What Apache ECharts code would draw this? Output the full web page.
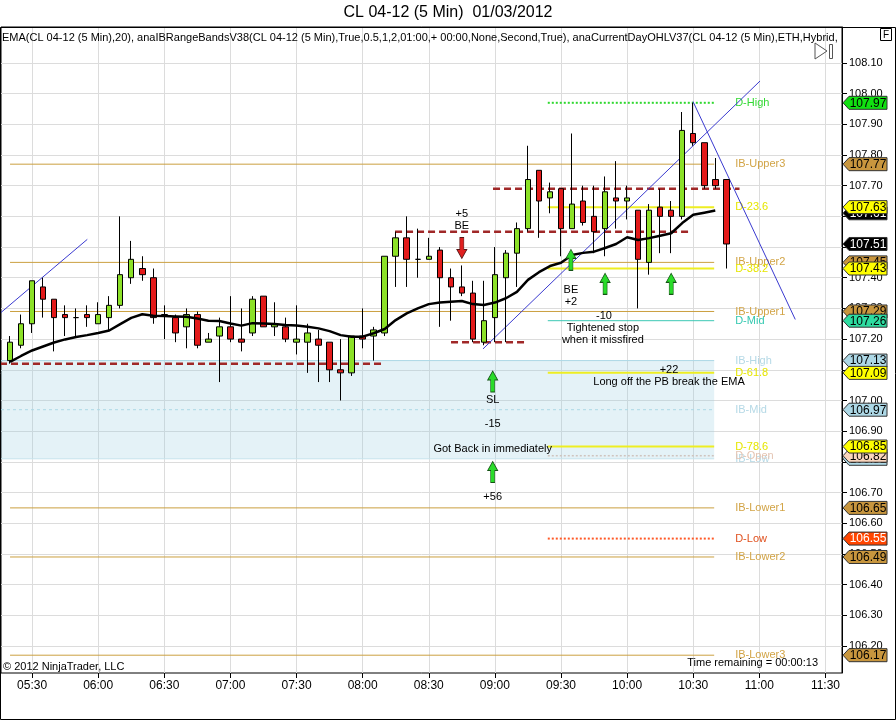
<!DOCTYPE html>
<html>
<head>
<meta charset="utf-8">
<script src="https://cdn.jsdelivr.net/npm/echarts@6/dist/echarts.min.js"></script>
<style>
html, body { margin: 0; padding: 0; background: #fff; }
#chart { width: 896px; height: 720px; }
</style>
</head>
<body>
<div id="chart"></div>
<script>
// bar index 0 is the 05:20 bar, one bar every 5 minutes
var firstBarMinute = 5 * 60 + 20;
var barMinutes = 5;

var opens = [107.13,107.18,107.25,107.37,107.33,107.28,107.27,107.28,107.25,107.27,
             107.31,107.40,107.43,107.40,107.28,107.27,107.24,107.28,107.19,107.21,
             107.24,107.20,107.22,107.34,107.24,107.24,107.19,107.19,107.20,107.19,
             107.10,107.09,107.21,107.21,107.22,107.47,107.53,107.46,107.46,107.49,
             107.40,107.37,107.35,107.19,107.27,107.40,107.48,107.56,107.75,107.66,
             107.69,107.56,107.65,107.60,107.56,107.66,107.65,107.62,107.45,107.63,
             107.62,107.60,107.87,107.84,107.72,107.72];
var closes = [107.19,107.25,107.39,107.33,107.27,107.27,107.27,107.27,107.28,107.31,
              107.41,107.46,107.41,107.27,107.28,107.22,107.28,107.18,107.20,107.24,
              107.20,107.19,107.33,107.24,107.25,107.20,107.20,107.22,107.18,107.10,
              107.09,107.21,107.20,107.23,107.47,107.53,107.46,107.46,107.47,107.40,
              107.37,107.35,107.20,107.26,107.41,107.48,107.56,107.72,107.65,107.68,
              107.56,107.64,107.58,107.55,107.68,107.65,107.66,107.46,107.62,107.60,
              107.60,107.88,107.84,107.70,107.70,107.51];
var highs = [107.21,107.28,107.39,107.40,107.33,107.31,107.30,107.31,107.32,107.34,
             107.60,107.52,107.47,107.43,107.31,107.28,107.30,107.29,107.22,107.27,
             107.34,107.30,107.34,107.34,107.32,107.27,107.31,107.25,107.23,107.19,
             107.20,107.21,107.30,107.24,107.47,107.55,107.60,107.56,107.53,107.50,
             107.43,107.44,107.39,107.39,107.50,107.49,107.58,107.83,107.75,107.71,
             107.69,107.87,107.70,107.70,107.73,107.78,107.70,107.62,107.64,107.69,
             107.65,107.94,107.97,107.84,107.79,107.72];
var lows = [107.12,107.17,107.22,107.27,107.16,107.21,107.21,107.24,107.25,107.23,
            107.30,107.38,107.39,107.25,107.20,107.19,107.17,107.17,107.19,107.06,
            107.19,107.16,107.21,107.24,107.21,107.19,107.15,107.09,107.06,107.06,
            107.00,107.08,107.17,107.13,107.21,107.37,107.37,107.40,107.46,107.24,
            107.26,107.34,107.19,107.18,107.19,107.19,107.37,107.55,107.53,107.61,
            107.47,107.56,107.57,107.48,107.47,107.56,107.59,107.30,107.41,107.48,
            107.48,107.59,107.83,107.69,107.69,107.43];

// EMA(20) as plotted (last bar not yet closed)
var ema20 = [107.126,107.145,107.163,107.176,107.189,107.199,107.207,107.213,107.220,107.228,
             107.249,107.269,107.281,107.276,107.275,107.274,107.273,107.267,107.260,107.259,
             107.251,107.244,107.252,107.251,107.249,107.246,107.244,107.240,107.235,107.226,
             107.213,107.208,107.208,107.219,107.233,107.262,107.284,107.300,107.314,107.319,
             107.322,107.324,107.314,107.311,107.319,107.333,107.354,107.393,107.418,107.438,
             107.449,107.474,107.481,107.485,107.497,107.510,107.532,107.523,107.529,107.537,
             107.545,107.578,107.605,107.612,107.619];

var timeLabels = ['05:30','06:00','06:30','07:00','07:30','08:00','08:30',
                  '09:00','09:30','10:00','10:30','11:00','11:30'];
var priceTicks = [106.2,106.3,106.4,106.5,106.6,106.7,106.8,106.9,107.0,
                  107.1,107.2,107.3,107.4,107.5,107.6,107.7,107.8,107.9,108.0,108.1];

// session levels (initial balance bands and day OHL / fib levels)
var levelNames  = ['D-High','IB-Upper3','D-23.6','IB-Upper2','D-38.2','IB-Upper1','D-Mid','IB-High',
                   'D-61.8','IB-Mid','D-78.6','IB-Low','D-Open','IB-Lower1','D-Low','IB-Lower2','IB-Lower3'];
var levelValues = [107.97,107.77,107.63,107.45,107.43,107.29,107.26,107.13,
                   107.09,106.97,106.85,106.81,106.82,106.65,106.55,106.49,106.17];
var levelStart  = [48.8,0,48.8,0,48.8,0,48.8,-0.82,48.8,-0.82,48.8,-0.82,48.8,0,48.8,0,0];
var levelEnd = 63.9;

// price markers on the right axis, drawn in this order
var tagValues = [107.61,107.63,107.51,107.45,107.43,107.29,107.26,107.97,107.77,
                 107.13,107.09,106.97,106.81,106.82,106.85,106.65,106.55,106.49,106.17];

// hand drawn lines: [bar, price] -> [bar, price]
var drawX1 = [-0.91,34.94,43.83,40.02,-0.91,42.92,61.98];
var drawP1 = [107.12,107.55,107.69,107.19,107.284,107.168,107.974];
var drawX2 = [33.94,61.86,66.2,47.0,7.01,68.06,71.26];
var drawP2 = [107.12,107.55,107.69,107.19,107.525,108.041,107.264];

var upArrowX = [50.9,54,60,43.8,43.8];
var upArrowP = [107.458,107.380,107.380,107.062,106.767];
var downArrowX = [41];
var downArrowP = [107.497];

var noteText = ['+5','BE','BE','+2','-10','Tightened stop','when it missfired','+22',
                'Long off the PB break the EMA','SL','-15','Got Back in immediately','+56'];
var noteX = [41,41,50.9,50.9,53.9,53.8,53.8,59.8,59.8,43.8,43.8,43.8,43.8];
var noteP = [107.608,107.569,107.360,107.321,107.275,107.236,107.197,107.099,
             107.060,107.002,106.923,106.842,106.685];

var FONT = '"Liberation Sans", Arial, sans-serif';
var GOLD = '#CBA040', YELLOW = '#EEEE22', LBLUE = '#ADD8E6';

var levelColors = ['#2ED82E',GOLD,YELLOW,GOLD,YELLOW,GOLD,'#3CC8B4',LBLUE,
                   YELLOW,LBLUE,YELLOW,'#C5E3EC','#CFC4BE',GOLD,'#FF5A28',GOLD,GOLD];
var levelWidth  = [2,1,2,1,2,1,1,1,2,1,2,1,1.5,1,2,1,1];
var levelDash   = [[2,2],null,null,null,null,null,null,null,null,[3,3],null,null,[2,2],null,[2,2],null,null];
var labelColors = ['#33D933','#D2A446','#E6E600','#D2A446','#E6E600','#D2A446','#33C8B0','#B5D9E6',
                   '#E6E600','#B5D9E6','#E6E600','#B5D9E6','#E4C4B2','#D2A446','#E0501E','#D2A446','#D2A446'];
var tagFill = ['#000000','#FFFF00','#000000','#C8963E','#FFFF00','#C8963E','#2DDCA0','#11E011','#C8963E',
               '#ADD8E6','#FFFF00','#ADD8E6','#ADD8E6','#F9D5BD','#FFFF00','#C8963E','#FF4500','#C8963E','#C8963E'];
var tagInk  = ['#fff','#000','#fff','#000','#000','#000','#000','#000','#000',
               '#000','#000','#000','#000','#000','#000','#000','#fff','#000','#000'];
var drawColor = ['#A02828','#A02828','#A02828','#A02828','#3A3AD0','#3A3AD0','#3A3AD0'];

var X_MIN = -0.82, X_MAX = 75.5;
var Y_MIN = 106.112, Y_MAX = 108.217;

function timeToBar(t) {
    var p = t.split(':');
    return (parseInt(p[0], 10) * 60 + parseInt(p[1], 10) - firstBarMinute) / barMinutes;
}
function barToTime(b) {
    var m = firstBarMinute + Math.round(b) * barMinutes;
    var h = Math.floor(m / 60), mm = m % 60;
    return (h < 10 ? '0' : '') + h + ':' + (mm < 10 ? '0' : '') + mm;
}
var timeTicks = timeLabels.map(timeToBar);

var candles = opens.map(function (o, i) {
    return [i, o, closes[i], lows[i], highs[i]];
});

var chart = echarts.init(document.getElementById('chart'));

var option = {
    animation: false,
    backgroundColor: '#fff',
    textStyle: { fontFamily: FONT },
    grid: {
        left: 1, right: 54, top: 27, bottom: 47,
        show: true, borderColor: '#000', borderWidth: 1,
        outerBoundsMode: 'none', containLabel: false
    },
    xAxis: {
        type: 'value', min: X_MIN, max: X_MAX,
        axisLine: { show: false, onZero: false },
        axisTick: { show: true, customValues: timeTicks, length: 5, lineStyle: { color: '#000' } },
        axisLabel: {
            customValues: timeTicks, color: '#000', fontSize: 12, margin: 7,
            formatter: function (v) { return barToTime(v); }
        },
        splitLine: { show: true, lineStyle: { color: '#DCDCDC', width: 1 } }
    },
    yAxis: {
        type: 'value', position: 'right', min: Y_MIN, max: Y_MAX, scale: true,
        axisLine: { show: true, onZero: false, lineStyle: { color: '#000' } },
        axisTick: { show: true, customValues: priceTicks, length: 5, lineStyle: { color: '#000' } },
        axisLabel: {
            customValues: priceTicks, color: '#000', fontSize: 11, margin: 7,
            formatter: function (v) { return v.toFixed(2); }
        },
        splitLine: { show: true, lineStyle: { color: '#DCDCDC', width: 1 } }
    },
    series: [
        {
            // initial balance zone
            type: 'custom', z: 1, silent: true,
            data: [[levelStart[7], levelEnd, levelValues[7], levelValues[11]]],
            renderItem: function (params, api) {
                var a = api.coord([api.value(0), api.value(2)]);
                var b = api.coord([api.value(1), api.value(3)]);
                return { type: 'rect', shape: { x: a[0], y: a[1], width: b[0] - a[0], height: b[1] - a[1] },
                         style: { fill: 'rgba(150,205,225,0.26)' } };
            }
        },
        {
            type: 'custom', z: 2, silent: true,
            data: levelValues.map(function (v, i) { return [levelStart[i], levelEnd, v]; }),
            renderItem: function (params, api) {
                var i = params.dataIndex;
                var a = api.coord([api.value(0), api.value(2)]);
                var b = api.coord([api.value(1), api.value(2)]);
                return { type: 'group', children: [
                    { type: 'line', shape: { x1: a[0], y1: a[1], x2: b[0], y2: b[1] },
                      style: { stroke: levelColors[i], lineWidth: levelWidth[i], lineDash: levelDash[i] } },
                    { type: 'text', x: b[0] + 21, y: b[1],
                      style: { text: levelNames[i], fill: labelColors[i], font: '11px ' + FONT,
                               verticalAlign: 'middle', align: 'left' } }
                ] };
            }
        },
        {
            type: 'custom', z: 4, silent: true, clip: true,
            data: drawX1.map(function (x, i) { return [x, drawP1[i], drawX2[i], drawP2[i]]; }),
            renderItem: function (params, api) {
                var i = params.dataIndex;
                var a = api.coord([api.value(0), api.value(1)]);
                var b = api.coord([api.value(2), api.value(3)]);
                var red = i < 4;
                return { type: 'line', shape: { x1: a[0], y1: a[1], x2: b[0], y2: b[1] },
                         style: { stroke: drawColor[i], lineWidth: red ? 2.5 : 1, lineDash: red ? [7, 4] : null } };
            }
        },
        {
            type: 'candlestick', z: 5,
            data: candles,
            barWidth: 6,
            itemStyle: {
                color: '#8CE128', color0: '#E31A1A',
                borderColor: '#000', borderColor0: '#000', borderColorDoji: '#000', borderWidth: 1
            }
        },
        {
            type: 'line', z: 6, showSymbol: false, silent: true,
            data: ema20.map(function (v, i) { return [i, v]; }),
            lineStyle: { color: '#000', width: 2.5 }
        },
        {
            type: 'scatter', z: 7, silent: true,
            data: upArrowX.map(function (x, i) { return [x, upArrowP[i]]; }),
            symbol: 'path://M5,0 L10,9 L7,9 L7,21 L3,21 L3,9 L0,9 Z',
            symbolSize: [10, 21],
            itemStyle: { color: '#2ADC2A', borderColor: '#145214', borderWidth: 0.8, opacity: 1 }
        },
        {
            type: 'scatter', z: 7, silent: true,
            data: downArrowX.map(function (x, i) { return [x, downArrowP[i]]; }),
            symbol: 'path://M5,21 L10,12 L7,12 L7,0 L3,0 L3,12 L0,12 Z',
            symbolSize: [10, 21],
            itemStyle: { color: '#E02020', borderColor: '#521414', borderWidth: 0.8, opacity: 1 }
        },
        {
            type: 'custom', z: 8, silent: true,
            data: noteX.map(function (x, i) { return [x, noteP[i]]; }),
            renderItem: function (params, api) {
                var p = api.coord([api.value(0), api.value(1)]);
                return { type: 'text', x: p[0], y: p[1],
                         style: { text: noteText[params.dataIndex], fill: '#000', font: '11px ' + FONT,
                                  align: 'center', verticalAlign: 'middle' } };
            }
        },
        {
            // value markers on the price axis
            type: 'custom', z: 10, silent: true, clip: false,
            data: tagValues.map(function (v) { return [X_MAX, v]; }),
            renderItem: function (params, api) {
                var i = params.dataIndex;
                var p = api.coord([api.value(0), api.value(1)]);
                var x = p[0] + 1, y = p[1];
                return { type: 'group', children: [
                    { type: 'polygon',
                      shape: { points: [[x, y], [x + 6, y - 6.5], [x + 44, y - 6.5], [x + 44, y + 6.5], [x + 6, y + 6.5]] },
                      style: { fill: tagFill[i], stroke: '#333', lineWidth: 1 } },
                    { type: 'text', x: x + 25, y: y + 0.5,
                      style: { text: tagValues[i].toFixed(2), fill: tagInk[i], font: '12px ' + FONT,
                               align: 'center', verticalAlign: 'middle' } }
                ] };
            }
        }
    ],
    graphic: [
        { type: 'rect', shape: { x: 0.5, y: 27.5, width: 895, height: 692 },
          style: { fill: 'none', stroke: '#000', lineWidth: 1 }, z: 20 },
        { type: 'text', x: 448, y: 13,
          style: { text: 'CL 04-12 (5 Min)  01/03/2012', fill: '#000', font: '16px ' + FONT,
                   align: 'center', verticalAlign: 'middle' } },
        { type: 'text', x: 2, y: 38, z: 20,
          style: { text: 'EMA(CL 04-12 (5 Min),20), anaIBRangeBandsV38(CL 04-12 (5 Min),True,0.5,1,2,01:00,+ 00:00,None,Second,True), anaCurrentDayOHLV37(CL 04-12 (5 Min),ETH,Hybrid,True)',
                   fill: '#000', font: '11px ' + FONT, verticalAlign: 'middle',
                   width: 838, overflow: 'truncate', ellipsis: '' } },
        { type: 'rect', shape: { x: 880.5, y: 28.5, width: 11, height: 12 }, z: 20,
          style: { fill: '#fff', stroke: '#000', lineWidth: 1 } },
        { type: 'text', x: 886, y: 35, z: 21,
          style: { text: 'F', fill: '#000', font: '10px ' + FONT, align: 'center', verticalAlign: 'middle' } },
        { type: 'polygon', shape: { points: [[815, 43], [827, 51], [815, 59]] }, z: 20,
          style: { fill: 'none', stroke: '#555', lineWidth: 1 } },
        { type: 'rect', shape: { x: 829.5, y: 44.5, width: 3, height: 14 }, z: 20,
          style: { fill: 'none', stroke: '#555', lineWidth: 1 } },
        { type: 'text', x: 3, y: 667, z: 20,
          style: { text: '\u00A9 2012 NinjaTrader, LLC', fill: '#000', font: '11px ' + FONT, verticalAlign: 'middle' } },
        { type: 'text', x: 818, y: 663, z: 20,
          style: { text: 'Time remaining = 00:00:13', fill: '#000', font: '11px ' + FONT,
                   align: 'right', verticalAlign: 'middle' } }
    ]
};

chart.setOption(option);
</script>
</body>
</html>
